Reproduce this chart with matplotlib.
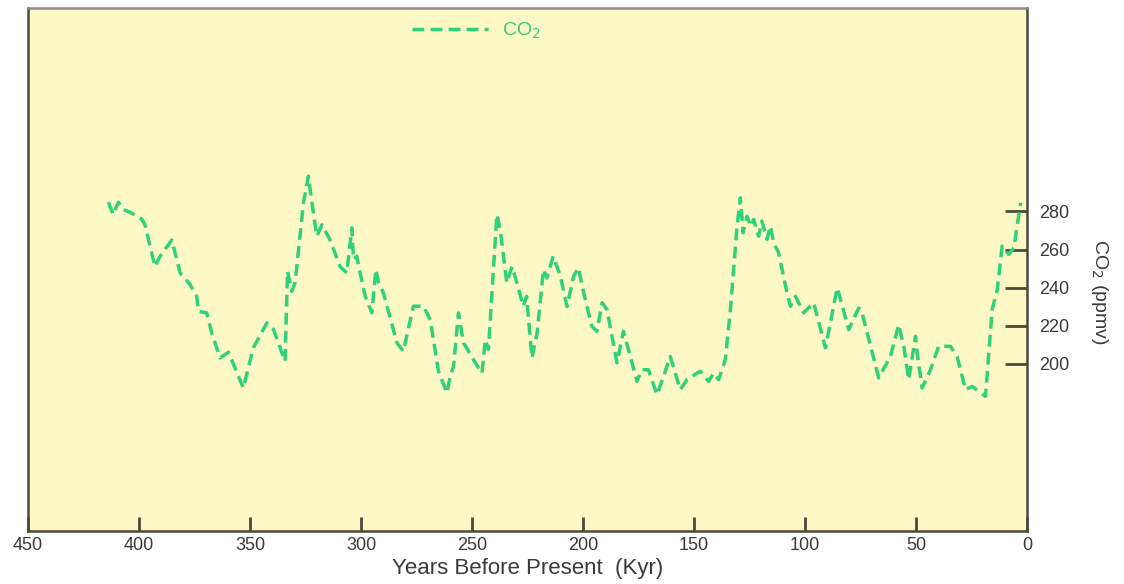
import matplotlib
matplotlib.use("Agg")
import matplotlib.pyplot as plt
import numpy as np

plt.rcParams['font.family'] = ['Liberation Sans', 'DejaVu Sans']

# CO2 record: age (kyr before present) and ppmv
age = [413.8, 411.6, 409.3, 407.1, 404.0, 398.8, 397.3, 392.8, 390.5, 385.2,
       381.5, 377.0, 374.0, 373.2, 369.5, 367.2, 363.5, 359.7, 353.0, 348.5,
       342.4, 339.4, 334.2, 333.1, 331.2, 329.7, 325.9, 323.7, 322.1, 319.9,
       317.6, 313.9, 309.4, 306.4, 304.1, 303.4, 301.9, 300.4, 298.1, 295.1,
       293.3, 292.1, 289.9, 283.8, 280.9, 276.4, 271.9, 268.8, 265.1, 261.3,
       259.8, 258.3, 256.1, 253.8, 249.3, 245.5, 244.0, 242.6, 238.8, 237.3,
       234.3, 232.0, 229.8, 226.9, 225.4, 223.0, 220.7, 217.8, 216.3, 213.4,
       210.2, 207.2, 204.2, 202.0, 199.7, 196.0, 193.7, 191.4, 189.2, 184.7,
       181.8, 178.7, 175.7, 173.5, 170.5, 166.7, 163.7, 160.7, 156.2, 153.1,
       147.2, 143.4, 141.2, 138.9, 135.9, 133.6, 130.6, 129.1, 127.9, 126.1,
       124.6, 123.1, 120.9, 119.4, 117.1, 115.6, 114.1, 111.9, 108.1, 106.6,
       104.3, 100.6, 96.1, 90.8, 85.5, 84.0, 80.3, 75.8, 74.3, 66.8,
       61.5, 57.8, 55.5, 53.3, 50.2, 49.5, 47.2, 43.5, 39.8, 34.5,
       31.5, 27.7, 24.7, 18.7, 15.7, 13.4, 11.2, 8.2, 5.9, 2.9]
co2 = [284.9, 278.4, 284.9, 281.0, 279.6, 276.0, 273.0, 251.0, 256.5, 265.0,
       247.7, 241.6, 235.4, 227.5, 226.7, 216.0, 203.0, 206.0, 187.2, 208.3,
       221.4, 218.0, 201.2, 248.6, 238.0, 242.5, 284.6, 298.6, 284.6, 267.0,
       273.0, 265.0, 251.0, 247.7, 271.4, 254.7, 256.5, 247.7, 235.4, 226.7,
       249.5, 242.5, 237.2, 210.9, 206.5, 230.2, 230.2, 223.0, 196.0, 184.6,
       193.3, 198.6, 226.7, 210.9, 202.0, 195.0, 212.6, 207.4, 278.4, 270.5,
       242.5, 251.0, 242.5, 230.2, 235.4, 203.0, 216.0, 249.5, 245.0, 256.5,
       246.0, 230.0, 246.0, 250.4, 237.2, 219.6, 217.0, 232.0, 228.4, 200.4,
       217.0, 203.8, 190.7, 196.8, 196.8, 183.7, 193.3, 203.8, 186.3, 191.6,
       196.0, 190.7, 195.0, 191.6, 202.0, 228.4, 272.3, 287.2, 268.8, 277.5,
       272.3, 275.8, 267.0, 274.9, 265.3, 272.3, 263.5, 258.3, 237.2, 230.2,
       235.4, 226.7, 232.0, 208.3, 239.8, 233.7, 217.9, 229.3, 226.7, 192.5,
       203.8, 220.5, 209.1, 191.6, 214.4, 205.6, 187.2, 196.8, 209.1, 209.1,
       203.8, 186.3, 188.0, 182.8, 228.4, 239.0, 261.7, 257.4, 260.9, 284.6]

x_ticks = [450, 400, 350, 300, 250, 200, 150, 100, 50, 0]
y_ticks = [200, 220, 240, 260, 280]

line_color = '#2fd27a'
spine_color = '#4a4a3a'
text_color = '#3a3a3a'

fig = plt.figure(figsize=(11.24, 5.84), dpi=100)
fig.patch.set_facecolor('white')
ax = fig.add_axes([0.0249, 0.0908, 0.8888, 0.8955])
ax.set_facecolor('#fdf8c5')

ax.plot(age, co2, color=line_color, linewidth=2.5, linestyle=(0, (3.4, 1.8)),
        label='CO$_2$')

ax.set_xlim(450, 0)
ax.set_ylim(112, 387)
ax.set_xticks(x_ticks)
ax.set_xticklabels([str(t) for t in x_ticks])
ax.yaxis.tick_right()
ax.yaxis.set_label_position('right')
ax.set_yticks(y_ticks)

ax.tick_params(axis='x', direction='in', length=10, width=2, color=spine_color,
               labelsize=13, labelcolor=text_color, pad=4)
ax.tick_params(axis='y', direction='in', length=16, width=2, color=spine_color,
               labelsize=13, labelcolor=text_color, pad=9)

for s in ax.spines.values():
    s.set_color(spine_color)
    s.set_linewidth(1.8)
ax.spines['top'].set_color('#8a8a80')

ax.set_xlabel('Years Before Present  (Kyr)', fontsize=16, color=text_color,
              labelpad=3)
ax.set_ylabel('CO$_2$ (ppmv)', fontsize=14, color=text_color, rotation=270,
              va='center')
ax.yaxis.set_label_coords(1.073, 0.457)

leg = ax.legend(loc='upper left', bbox_to_anchor=(0.372, 1.0), frameon=False,
                handlelength=3.9, handletextpad=0.7, fontsize=14,
                borderaxespad=0.25)
for t in leg.get_texts():
    t.set_color(line_color)

fig.savefig('out.png', dpi=100, facecolor=fig.get_facecolor())
